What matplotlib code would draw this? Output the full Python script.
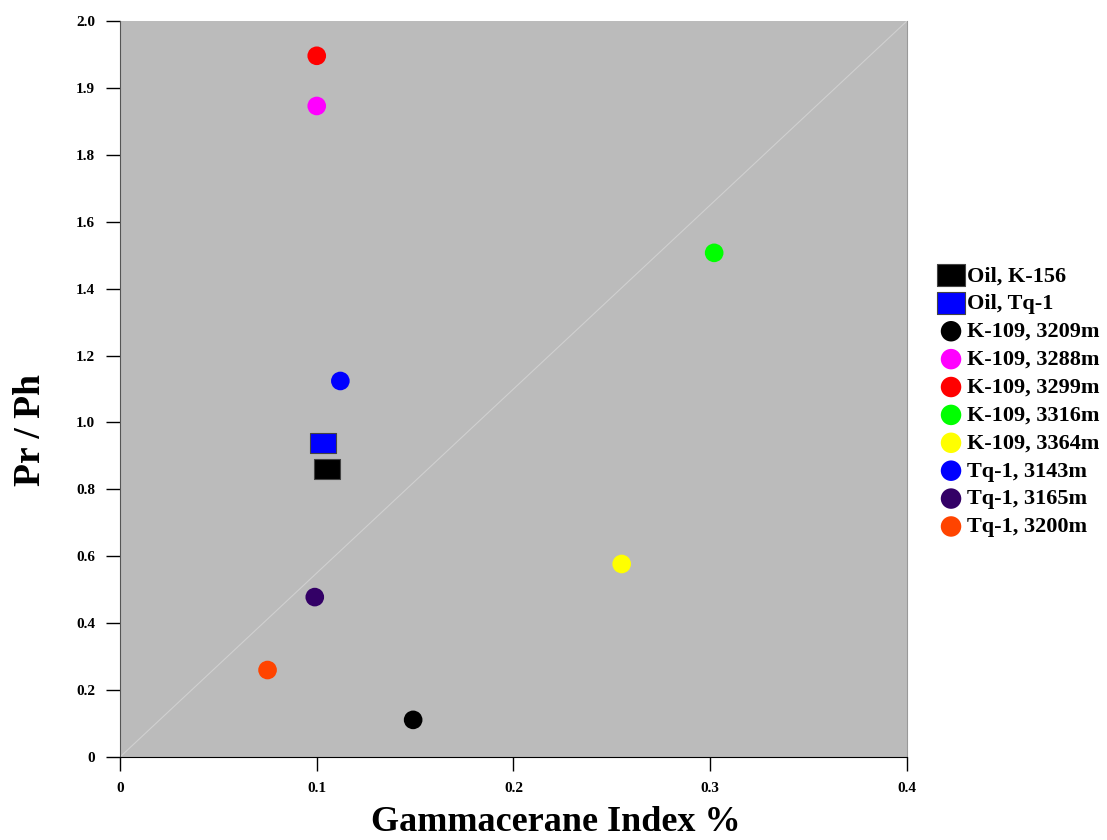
import numpy as np
import matplotlib.pyplot as plt

# Data --------------------------------------------------------------------
labels = ["Oil, K-156", "Oil, Tq-1", "K-109, 3209m", "K-109, 3288m",
          "K-109, 3299m", "K-109, 3316m", "K-109, 3364m", "Tq-1, 3143m",
          "Tq-1, 3165m", "Tq-1, 3200m"]
gamma_index = [0.105, 0.103, 0.149, 0.100, 0.100, 0.302, 0.255, 0.112, 0.099, 0.075]
# y positions on the plot's linear scale (axis runs 0..2.2)
pr_ph = [0.861, 0.939, 0.111, 1.946, 2.096, 1.507, 0.577, 1.124, 0.478, 0.260]
colors = ["black", "blue", "black", "#ff00ff", "red", "#00ff00", "yellow",
          "blue", "#330066", "#ff4400"]
is_square = [True, True, False, False, False, False, False, False, False, False]

ytick_pos = [0, 0.2, 0.4, 0.6, 0.8, 1.0, 1.2, 1.4, 1.6, 1.8, 2.0, 2.2]
ytick_lab = ["0", "0.2", "0.4", "0.6", "0.8", "1.0", "1.2", "1.4", "1.6",
             "1.8", "1.9", "2.0"]
xtick_pos = [0, 0.1, 0.2, 0.3, 0.4]
xtick_lab = ["0", "0.1", "0.2", "0.3", "0.4"]

plt.rcParams['font.family'] = 'Liberation Serif'
plt.rcParams['font.weight'] = 'bold'

# wide rectangle marker for the oils
rect = [(-1.3, -1), (1.3, -1), (1.3, 1), (-1.3, 1), (-1.3, -1)]

fig = plt.figure(figsize=(11.07, 8.4), dpi=100)
ax = fig.add_axes([0.1084, 0.0988, 0.7109, 0.8762])
ax.set_facecolor("#bbbbbb")

# reference line
ax.plot([0, 0.4], [0, 2.2], color="#d0d0d0", lw=0.8, zorder=1)

for x, y, c, sq, lab in zip(gamma_index, pr_ph, colors, is_square, labels):
    if sq:
        ax.scatter(x, y, s=330, marker=rect, c=c, edgecolors="#444444",
                   linewidths=0.8, label=lab, zorder=3)
    else:
        ax.scatter(x, y, s=180, marker="o", c=c, edgecolors="none",
                   label=lab, zorder=3)

ax.set_xlim(0, 0.4)
ax.set_ylim(0, 2.2)
ax.set_xticks(xtick_pos)
ax.set_xticklabels(xtick_lab, fontweight='bold')
ax.set_yticks(ytick_pos)
ax.set_yticklabels(ytick_lab, fontweight='bold')
ax.tick_params(labelsize=11, length=10, width=1, pad=8)

ax.spines['left'].set_color("#555555")
ax.spines['bottom'].set_color("black")
ax.spines['top'].set_visible(False)
ax.spines['right'].set_color("#999999")

ax.set_xlabel("Gammacerane Index %", fontsize=26, fontweight='bold')
ax.xaxis.label.set_va('bottom')
ax.xaxis.set_label_coords(0.554, -(839 - 757) / 736)
ax.set_ylabel("Pr / Ph", fontsize=27, fontweight='bold')
ax.yaxis.set_label_coords(-(120 - 48) / 787, (757 - 430) / 736)

fig.legend(loc="center left", bbox_to_anchor=(0.830, 0.522), frameon=False,
           prop={'family': 'Liberation Serif', 'size': 16, 'weight': 'bold'},
           labelspacing=0.33, handletextpad=0.15, handlelength=1.1,
           markerscale=1.1)

fig.savefig("out.png", dpi=100)
